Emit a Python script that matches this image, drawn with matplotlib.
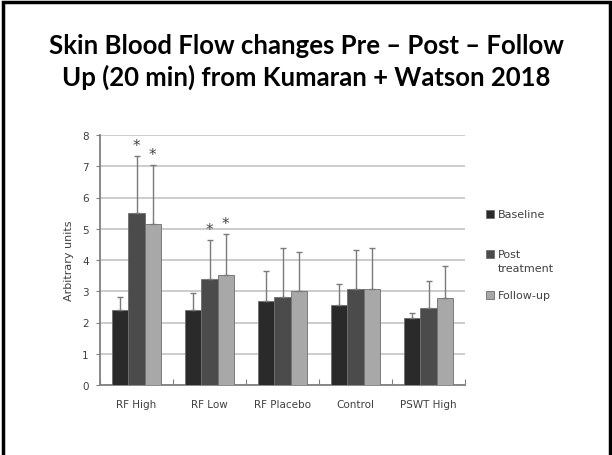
import matplotlib.pyplot as plt
import matplotlib.patches as mpatches
import numpy as np

categories = ['RF High', 'RF Low', 'RF Placebo', 'Control', 'PSWT High']
series = ['Baseline', 'Post\ntreatment', 'Follow-up']
baseline = [2.40, 2.40, 2.70, 2.55, 2.14]
post = [5.50, 3.39, 2.83, 3.06, 2.48]
follow = [5.14, 3.52, 3.02, 3.06, 2.77]
baseline_err = [0.43, 0.54, 0.95, 0.68, 0.15]
post_err = [1.83, 1.24, 1.56, 1.26, 0.84]
follow_err = [1.91, 1.30, 1.24, 1.34, 1.05]
# which bars carry an asterisk (post, follow)
star_post = [True, True, False, False, False]
star_follow = [True, True, False, False, False]

colors = ['#2a2a2a', '#4b4b4b', '#a8a8a8']

fig = plt.figure(figsize=(6.12, 4.56), dpi=100)

# slide border
fig.patches.append(mpatches.Rectangle((3.5 / 612, -0.05), 606 / 612, 1.05 - 2.5 / 456,
                                      transform=fig.transFigure, fill=False,
                                      edgecolor='black', linewidth=2.5))

fig.text(0.5, 1 - 46 / 456, 'Skin Blood Flow changes Pre – Post – Follow',
         ha='center', va='center', fontsize=18.5, fontweight='bold', family='Lato')
fig.text(0.5, 1 - 77 / 456, 'Up (20 min) from Kumaran + Watson 2018',
         ha='center', va='center', fontsize=18.5, fontweight='bold', family='Lato')

ax = fig.add_axes([100 / 612, 1 - 386 / 456, 365 / 612, 250 / 456])

x = np.arange(len(categories))
w = 0.223
vals = [baseline, post, follow]
errs = [baseline_err, post_err, follow_err]
for i in range(3):
    xs = x + (i - 1) * w
    ax.bar(xs, vals[i], w, color=colors[i], edgecolor='#6e6e6e', linewidth=0.6,
           label=series[i], zorder=3)
    ax.errorbar(xs, vals[i], yerr=[np.zeros(len(x)), errs[i]], fmt='none',
                ecolor='#7a7a7a', elinewidth=1, capsize=2.2, capthick=1, zorder=4)

for j in range(len(categories)):
    if star_post[j]:
        ax.text(x[j], post[j] + post_err[j] + 0.1, '*', ha='center', va='bottom',
                fontsize=11, color='#444444')
    if star_follow[j]:
        ax.text(x[j] + w, follow[j] + follow_err[j] + 0.1, '*', ha='center', va='bottom',
                fontsize=11, color='#444444')

ax.set_xlim(-0.5, len(categories) - 0.5)
ax.set_ylim(0, 8)
ax.set_yticks(range(0, 9))
ax.set_xticks(np.arange(-0.5, len(categories), 1), minor=False)
ax.set_xticklabels([])
ax.set_xticks(x, minor=True)
ax.set_xticklabels(categories, minor=True)
ax.tick_params(axis='x', which='minor', length=0, pad=10, labelsize=7.5, labelcolor='#404040')
ax.tick_params(axis='x', which='major', length=4, color='#808080', direction='in')
ax.tick_params(axis='y', length=3, color='#808080', direction='out', pad=5,
               labelsize=7.5, labelcolor='#404040')
ax.grid(axis='y', color='#c4c4c4', linewidth=1.2, zorder=0)
for s in ['top', 'right']:
    ax.spines[s].set_visible(False)
ax.spines['left'].set_color('#808080')
ax.spines['bottom'].set_color('#808080')
ax.spines['left'].set_linewidth(1.3)
ax.spines['bottom'].set_linewidth(1.3)
ax.set_ylabel('Arbitrary units', fontsize=8, color='#404040', labelpad=6)

# legend, drawn by hand so the square sits on the first text line
leg_y = [215, 255, 296]
for i in range(3):
    yf = 1 - leg_y[i] / 456
    fig.patches.append(mpatches.Rectangle((486 / 612, yf - 4 / 456), 8 / 612, 8 / 456,
                                          transform=fig.transFigure, facecolor=colors[i],
                                          edgecolor='#6e6e6e', linewidth=0.6))
    fig.text(498 / 612, yf + 5 / 456, series[i], ha='left', va='top', fontsize=8,
             color='#404040', linespacing=1.45)

fig.savefig('out.png', dpi=100)
